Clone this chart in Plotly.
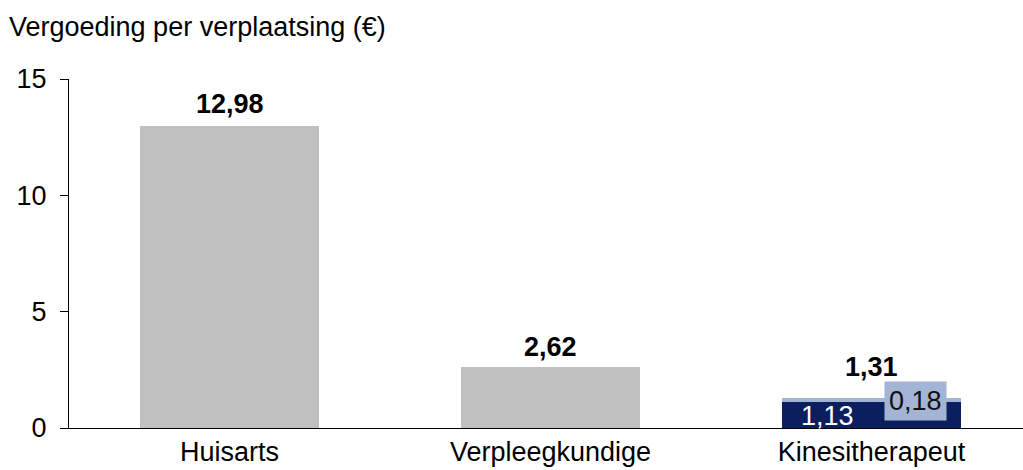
import plotly.graph_objects as go

# Reimbursement per trip (EUR) per care provider
categories = ["Huisarts", "Verpleegkundige", "Kinesitherapeut"]
base_values = [12.98, 2.62, 1.13]     # main component
extra_values = [0.0, 0.0, 0.18]       # additional component (physiotherapist only)
totals = [b + e for b, e in zip(base_values, extra_values)]

y_ticks = [0, 5, 10, 15]

GRAY = "#C0C0C0"
NAVY = "#0B1F5F"
LIGHT = "#A3B4D4"
FONT = "Liberation Sans, Arial, sans-serif"
FS = 27

# vertical gap (px) between each bar top and its total label
label_gaps = [5, 3, 14]


def fmt(v):
    return f"{v:.2f}".replace(".", ",")


base_colors = [GRAY, GRAY, NAVY]

fig = go.Figure()
fig.add_trace(go.Bar(
    x=categories, y=base_values, marker=dict(color=base_colors, line=dict(width=0)),
    width=0.555, hoverinfo="skip", showlegend=False,
))
fig.add_trace(go.Bar(
    x=categories, y=extra_values, marker=dict(color=LIGHT, line=dict(width=0)),
    width=0.555, hoverinfo="skip", showlegend=False,
))

annotations = []
# Totals above each bar
for cat, tot, gap in zip(categories, totals, label_gaps):
    annotations.append(dict(
        x=cat, y=tot, xref="x", yref="y", text=f"<b>{fmt(tot)}</b>",
        showarrow=False, yanchor="bottom", yshift=gap,
        font=dict(family=FONT, size=FS, color="black"),
    ))

# Component labels for the stacked bar
k = 2
annotations.append(dict(
    x=categories[k], y=0, xref="x", yref="y", text=fmt(base_values[k]),
    showarrow=False, yanchor="middle", xshift=-44, yshift=12,
    font=dict(family=FONT, size=FS, color="white"),
))
annotations.append(dict(
    x=categories[k], y=totals[k], xref="x", yref="y", text=fmt(extra_values[k]),
    showarrow=False, yanchor="middle", xshift=44, yshift=-3,
    bgcolor=LIGHT, borderpad=4,
    font=dict(family=FONT, size=FS, color="#111111"),
))

fig.update_layout(
    width=1023, height=470,
    margin=dict(l=69, r=0, t=79, b=42),
    paper_bgcolor="white", plot_bgcolor="white",
    barmode="stack",
    separators=",.",
    font=dict(family=FONT, size=FS, color="black"),
    title=dict(
        text="Vergoeding per verplaatsing (€)",
        xref="container", yref="container",
        x=9 / 1023, xanchor="left", y=1 - 27 / 470, yanchor="middle",
        font=dict(family=FONT, size=FS, color="black"),
    ),
    annotations=annotations,
    xaxis=dict(
        range=[-0.5, 2.472], showline=True, linecolor="black", linewidth=1,
        ticks="", showgrid=False, zeroline=False,
        tickfont=dict(family=FONT, size=FS, color="black"),
    ),
    yaxis=dict(
        range=[0, 15], tickvals=y_ticks, showline=True, linecolor="black",
        linewidth=1, ticks="outside", ticklen=8, tickcolor="black",
        showgrid=False, zeroline=False, ticklabelstandoff=8,
        tickfont=dict(family=FONT, size=FS, color="black"),
    ),
)

fig.write_html("out.html")
